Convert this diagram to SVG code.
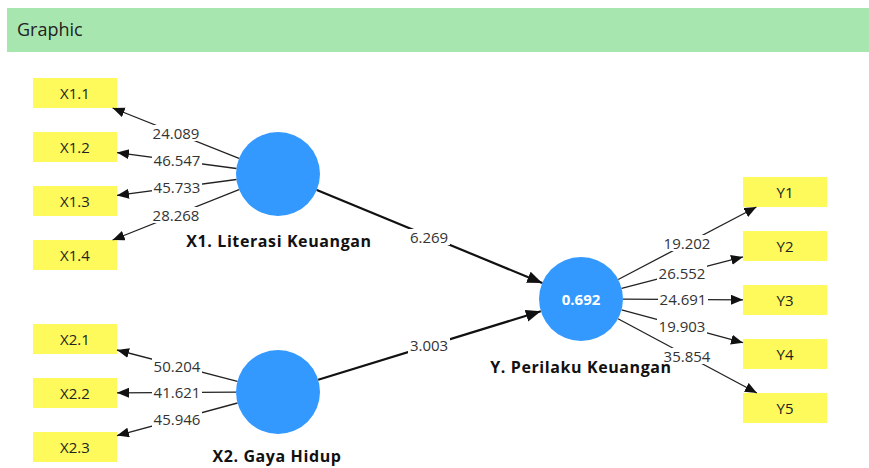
<svg xmlns="http://www.w3.org/2000/svg" width="869" height="468" viewBox="0 0 869 468">
<defs>
<marker id="ah" markerUnits="userSpaceOnUse" markerWidth="13" markerHeight="11" refX="12" refY="5" orient="auto"><path d="M0,0 L12,5 L0,10 z" fill="#111"/></marker>
<marker id="ahb" markerUnits="userSpaceOnUse" markerWidth="16" markerHeight="13" refX="15" refY="6" orient="auto"><path d="M0,0 L15,6 L0,12 z" fill="#111"/></marker>
<style>
.hdr{fill:#a8e6b0}
.htxt{font-family:"Open Sans","Noto Sans",sans-serif;font-size:18px;fill:#222}
.ind{fill:#fffa5c}
.itxt{font-family:"Open Sans","Noto Sans",sans-serif;font-size:15px;fill:#222;text-anchor:middle}
.lv{fill:#3399ff}
.lvname{font-family:"Open Sans","Noto Sans",sans-serif;font-size:16px;font-weight:bold;fill:#111;text-anchor:middle;letter-spacing:0.6px}
.r2{font-family:"Open Sans","Noto Sans",sans-serif;font-size:15px;font-weight:bold;fill:#fff;text-anchor:middle}
.ol{stroke:#222;stroke-width:1.3;fill:none;marker-end:url(#ah)}
.sl{stroke:#111;stroke-width:2.2;fill:none;marker-end:url(#ahb)}
.lb{fill:#fff}
.lt{font-family:"Open Sans","Noto Sans",sans-serif;font-size:15px;fill:#333;text-anchor:middle}
</style>
</defs>
<rect width="869" height="468" fill="#fff"/>
<g id="header">
<rect class="hdr" x="7" y="8" width="862" height="44"/>
<text class="htxt" x="17" y="36">Graphic</text>
</g>
<g id="nodes">
<g id="X1.1"><rect class="ind" x="33" y="78" width="84" height="30"/><text class="itxt" x="75" y="99">X1.1</text></g>
<g id="X1.2"><rect class="ind" x="33" y="132" width="84" height="30"/><text class="itxt" x="75" y="153">X1.2</text></g>
<g id="X1.3"><rect class="ind" x="33" y="186" width="84" height="30"/><text class="itxt" x="75" y="207">X1.3</text></g>
<g id="X1.4"><rect class="ind" x="33" y="240" width="84" height="30"/><text class="itxt" x="75" y="261">X1.4</text></g>
<g id="X2.1"><rect class="ind" x="33" y="324" width="84" height="30"/><text class="itxt" x="75" y="345">X2.1</text></g>
<g id="X2.2"><rect class="ind" x="33" y="378" width="84" height="30"/><text class="itxt" x="75" y="399">X2.2</text></g>
<g id="X2.3"><rect class="ind" x="33" y="432" width="84" height="30"/><text class="itxt" x="75" y="453">X2.3</text></g>
<g id="Y1"><rect class="ind" x="743" y="177" width="84" height="30"/><text class="itxt" x="785" y="198">Y1</text></g>
<g id="Y2"><rect class="ind" x="743" y="231" width="84" height="30"/><text class="itxt" x="785" y="252">Y2</text></g>
<g id="Y3"><rect class="ind" x="743" y="285" width="84" height="30"/><text class="itxt" x="785" y="306">Y3</text></g>
<g id="Y4"><rect class="ind" x="743" y="339" width="84" height="30"/><text class="itxt" x="785" y="360">Y4</text></g>
<g id="Y5"><rect class="ind" x="743" y="393" width="84" height="30"/><text class="itxt" x="785" y="414">Y5</text></g>
<g id="X1"><circle class="lv" cx="278" cy="174" r="42"/><text class="lvname" x="279" y="247">X1. Literasi Keuangan</text></g>
<g id="X2"><circle class="lv" cx="278" cy="392" r="42"/><text class="lvname" x="277" y="462">X2. Gaya Hidup</text></g>
<g id="Y"><circle class="lv" cx="581" cy="299" r="42"/><text class="r2" x="581" y="305">0.692</text><text class="lvname" x="581" y="373">Y. Perilaku Keuangan</text></g>
</g>
<g id="connectors">
<g><line class="ol" x1="239" y1="158.4" x2="112.6" y2="108"/><rect class="lb" x="151" y="125" width="50" height="16"/><text class="lt" x="176" y="139">24.089</text></g>
<g><line class="ol" x1="236.4" y1="168.5" x2="117" y2="152.6"/><rect class="lb" x="152" y="152" width="50" height="16"/><text class="lt" x="177" y="166">46.547</text></g>
<g><line class="ol" x1="236.4" y1="179.5" x2="117" y2="195.4"/><rect class="lb" x="152" y="179" width="50" height="16"/><text class="lt" x="177" y="193">45.733</text></g>
<g><line class="ol" x1="239" y1="189.6" x2="112.6" y2="240"/><rect class="lb" x="151" y="207" width="50" height="16"/><text class="lt" x="176" y="221">28.268</text></g>
<g><line class="ol" x1="237.4" y1="381.4" x2="117" y2="350"/><rect class="lb" x="152" y="358" width="50" height="16"/><text class="lt" x="177" y="372">50.204</text></g>
<g><line class="ol" x1="236" y1="392.2" x2="117" y2="392.8"/><rect class="lb" x="152" y="385" width="50" height="16"/><text class="lt" x="177" y="398">41.621</text></g>
<g><line class="ol" x1="237.5" y1="403" x2="117" y2="435.6"/><rect class="lb" x="152" y="411" width="50" height="16"/><text class="lt" x="177" y="425">45.946</text></g>
<g><line class="ol" x1="618.2" y1="279.5" x2="756.4" y2="207"/><rect class="lb" x="662" y="235" width="50" height="16"/><text class="lt" x="687" y="249">19.202</text></g>
<g><line class="ol" x1="621.6" y1="288.4" x2="743" y2="256.9"/><rect class="lb" x="657" y="265" width="50" height="16"/><text class="lt" x="682" y="279">26.552</text></g>
<g><line class="ol" x1="623" y1="299.2" x2="743" y2="299.8"/><rect class="lb" x="658" y="292" width="50" height="16"/><text class="lt" x="683" y="305">24.691</text></g>
<g><line class="ol" x1="621.6" y1="309.9" x2="743" y2="342.7"/><rect class="lb" x="657" y="318" width="50" height="16"/><text class="lt" x="682" y="332">19.903</text></g>
<g><line class="ol" x1="618" y1="318.8" x2="756.9" y2="393"/><rect class="lb" x="662" y="348" width="50" height="16"/><text class="lt" x="687" y="362">35.854</text></g>
<g><line class="sl" x1="316.8" y1="190" x2="542.2" y2="283"/><rect class="lb" x="408" y="229" width="42" height="16"/><text class="lt" x="429" y="243">6.269</text></g>
<g><line class="sl" x1="318.2" y1="379.7" x2="540.8" y2="311.3"/><rect class="lb" x="408" y="338" width="42" height="16"/><text class="lt" x="429" y="351">3.003</text></g>
</g>
</svg>
